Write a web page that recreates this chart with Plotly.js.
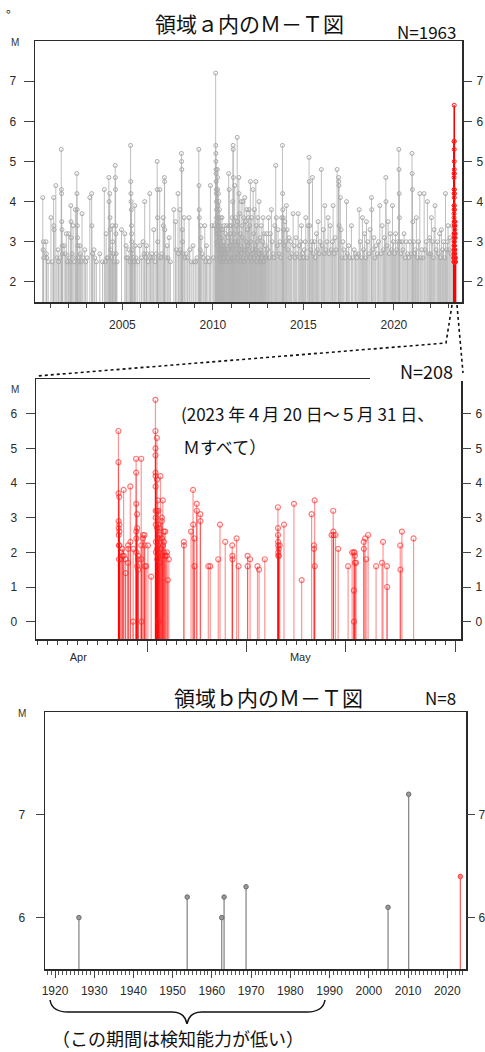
<!DOCTYPE html>
<html>
<head>
<meta charset="utf-8">
<script src="https://cdn.plot.ly/plotly-3.0.1.min.js"></script>
<style>
  html, body { margin: 0; padding: 0; background: #fff; }
  #chart { width: 485px; height: 1052px; }
</style>
</head>
<body>
<div id="chart"></div>
<script>
// ---------- Region a: events M>=2.5 since 2000 (decimal year, magnitude) ----------
const aTime = [
  2000.60, 2000.62, 2000.63, 2000.65, 2000.78, 2000.80, 2000.82, 2000.90,
  2001.05, 2001.12, 2001.20, 2001.21, 2001.22, 2001.32, 2001.38, 2001.45, 2001.48, 2001.55, 2001.62, 2001.63, 2001.64, 2001.65, 2001.66, 2001.67, 2001.68, 2001.78, 2001.85, 2001.90, 2001.95,
  2002.03, 2002.05, 2002.10, 2002.15, 2002.16, 2002.17, 2002.22, 2002.27, 2002.33, 2002.40, 2002.42, 2002.48, 2002.49, 2002.50, 2002.51, 2002.52, 2002.53, 2002.55, 2002.60, 2002.65, 2002.67, 2002.72, 2002.77, 2002.82, 2002.92, 2002.97,
  2003.05, 2003.20, 2003.30, 2003.31, 2003.35, 2003.43, 2003.47, 2003.56, 2003.75, 2003.90,
  2004.00, 2004.05, 2004.10, 2004.15, 2004.20, 2004.25, 2004.26, 2004.30, 2004.31, 2004.32, 2004.35, 2004.40, 2004.45, 2004.46, 2004.50, 2004.55, 2004.60, 2004.61, 2004.62, 2004.63, 2004.64, 2004.65, 2004.70, 2004.95,
  2005.13, 2005.20, 2005.22, 2005.30, 2005.37, 2005.42, 2005.45, 2005.46, 2005.47, 2005.48, 2005.49, 2005.50, 2005.51, 2005.52, 2005.53, 2005.55, 2005.60, 2005.65, 2005.68, 2005.70, 2005.75, 2005.85, 2005.96,
  2006.05, 2006.14, 2006.20, 2006.23, 2006.30, 2006.33, 2006.35, 2006.42, 2006.51, 2006.55, 2006.62, 2006.68, 2006.73, 2006.80, 2006.87, 2006.92, 2006.93, 2006.94, 2006.95, 2006.98,
  2007.06, 2007.12, 2007.18, 2007.25, 2007.26, 2007.32, 2007.33, 2007.34, 2007.40, 2007.47, 2007.52, 2007.58, 2007.65, 2007.84, 2007.93, 2007.97,
  2008.07, 2008.10, 2008.17, 2008.20, 2008.26, 2008.27, 2008.28, 2008.31, 2008.32, 2008.35, 2008.41, 2008.45, 2008.52, 2008.60, 2008.68, 2008.72, 2008.80, 2008.90, 2008.95,
  2009.05, 2009.12, 2009.22, 2009.23, 2009.24, 2009.25, 2009.30, 2009.33, 2009.34, 2009.40, 2009.47, 2009.55, 2009.60, 2009.64, 2009.72, 2009.80, 2009.86, 2009.95,
  2010.02, 2010.08, 2010.150, 2010.155, 2010.160, 2010.165, 2010.170, 2010.175, 2010.180, 2010.185, 2010.190, 2010.195, 2010.200, 2010.205, 2010.210, 2010.215, 2010.220, 2010.225, 2010.230,
  2010.24, 2010.25, 2010.26, 2010.27, 2010.28, 2010.29, 2010.30, 2010.31, 2010.32, 2010.33, 2010.34,
  2010.36, 2010.38, 2010.40, 2010.42, 2010.45, 2010.47, 2010.50, 2010.53, 2010.55, 2010.58, 2010.60, 2010.63, 2010.66, 2010.70, 2010.73, 2010.76, 2010.80, 2010.83, 2010.87, 2010.90, 2010.92, 2010.95, 2010.97,
  2011.00, 2011.03, 2011.06, 2011.09, 2011.11, 2011.12, 2011.13, 2011.16, 2011.20, 2011.23, 2011.26, 2011.30, 2011.34, 2011.36, 2011.39, 2011.43, 2011.44, 2011.47, 2011.50, 2011.53, 2011.56, 2011.60, 2011.63, 2011.66, 2011.70, 2011.73, 2011.76, 2011.80, 2011.83, 2011.87, 2011.90, 2011.93, 2011.96,
  2012.00, 2012.03, 2012.07, 2012.10, 2012.14, 2012.18, 2012.22, 2012.25, 2012.29, 2012.33, 2012.37, 2012.40, 2012.44, 2012.48, 2012.52, 2012.55, 2012.60, 2012.63, 2012.67, 2012.70, 2012.74, 2012.77, 2012.82, 2012.86, 2012.90, 2012.94, 2012.97,
  2013.02, 2013.07, 2013.12, 2013.17, 2013.23, 2013.27, 2013.32, 2013.37, 2013.42, 2013.47, 2013.50, 2013.55, 2013.60, 2013.65, 2013.70, 2013.75, 2013.80, 2013.84, 2013.85, 2013.86, 2013.88, 2013.90, 2013.93, 2013.97,
  2014.02, 2014.06, 2014.10, 2014.15, 2014.20, 2014.25, 2014.30, 2014.35, 2014.43, 2014.48, 2014.53, 2014.58, 2014.63, 2014.71, 2014.76, 2014.80, 2014.85, 2014.89, 2014.95,
  2015.00, 2015.05, 2015.10, 2015.13, 2015.20, 2015.25, 2015.31, 2015.32, 2015.35, 2015.40, 2015.45, 2015.50, 2015.55, 2015.60, 2015.66, 2015.72, 2015.77, 2015.81, 2015.86, 2015.92, 2015.99,
  2016.04, 2016.10, 2016.14, 2016.18, 2016.24, 2016.30, 2016.36, 2016.42, 2016.48, 2016.54, 2016.60, 2016.64, 2016.70, 2016.75, 2016.80, 2016.86, 2016.94, 2016.95, 2016.96, 2016.97,
  2017.04, 2017.08, 2017.13, 2017.18, 2017.23, 2017.30, 2017.38, 2017.43, 2017.50, 2017.56, 2017.65, 2017.72, 2017.80, 2017.88, 2017.95,
  2018.02, 2018.08, 2018.14, 2018.20, 2018.26, 2018.32, 2018.38, 2018.44, 2018.48, 2018.55, 2018.62, 2018.68, 2018.76, 2018.77, 2018.83, 2018.89, 2018.95,
  2019.00, 2019.08, 2019.15, 2019.22, 2019.28, 2019.35, 2019.42, 2019.48, 2019.55, 2019.56, 2019.62, 2019.68, 2019.74, 2019.80, 2019.86, 2019.92, 2019.97,
  2020.03, 2020.09, 2020.15, 2020.21, 2020.27, 2020.28, 2020.29, 2020.30, 2020.32, 2020.38, 2020.45, 2020.50, 2020.56, 2020.62, 2020.68, 2020.75, 2020.82, 2020.88, 2020.94,
  2021.00, 2021.01, 2021.02, 2021.04, 2021.08, 2021.14, 2021.19, 2021.24, 2021.30, 2021.36, 2021.43, 2021.48, 2021.54, 2021.60, 2021.67, 2021.72, 2021.78, 2021.85, 2021.92, 2021.97,
  2022.02, 2022.07, 2022.12, 2022.18, 2022.22, 2022.27, 2022.33, 2022.40, 2022.46, 2022.52, 2022.57, 2022.62, 2022.68, 2022.74, 2022.80, 2022.85, 2022.90, 2022.95, 2022.99,
  2023.05, 2023.10, 2023.16, 2023.22, 2023.27
];
const aMag = [
  4.1, 2.8, 3.0, 2.6, 3.0, 2.7, 2.6, 2.5,
  3.6, 2.5, 4.1, 3.4, 3.3, 4.4, 2.6, 2.8, 2.5, 2.6, 5.3, 4.3, 4.2, 3.5, 3.3, 2.9, 2.7, 2.9, 2.7, 3.2, 2.5,
  3.2, 2.6, 2.5, 3.9, 3.5, 3.1, 2.7, 3.4, 2.5, 3.8, 2.6, 4.7, 4.2, 3.8, 3.4, 3.1, 2.9, 2.6, 2.5, 2.9, 2.7, 2.5, 3.7, 2.6, 2.8, 2.5,
  2.6, 4.1, 4.2, 3.4, 2.7, 2.8, 2.6, 2.5, 2.7, 2.5,
  4.3, 2.5, 3.2, 2.6, 2.6, 4.6, 4.0, 4.2, 3.6, 3.3, 2.8, 2.6, 3.4, 3.0, 2.7, 2.5, 4.9, 4.6, 4.3, 3.4, 3.2, 2.7, 2.5, 3.3,
  3.2, 2.9, 2.6, 2.6, 2.8, 2.5, 5.4, 4.5, 4.2, 4.0, 3.8, 3.4, 3.2, 3.0, 2.8, 2.7, 2.6, 2.5, 3.9, 2.9, 2.6, 2.5, 2.9,
  2.6, 3.0, 2.7, 4.0, 2.6, 2.9, 2.7, 2.5, 4.2, 2.6, 2.7, 2.6, 3.3, 2.5, 2.7, 5.0, 4.3, 3.6, 3.0, 2.6,
  4.3, 2.6, 2.7, 3.6, 3.4, 4.6, 4.5, 3.3, 2.6, 2.9, 2.6, 3.1, 2.5, 3.8, 3.5, 2.8,
  4.2, 2.7, 3.8, 2.8, 5.2, 5.0, 4.8, 3.3, 3.0, 2.7, 3.6, 2.6, 2.7, 2.6, 3.6, 2.8, 2.5, 2.9, 2.5,
  2.5, 2.6, 5.3, 4.4, 3.8, 3.6, 2.8, 3.4, 3.1, 2.7, 2.6, 3.4, 2.5, 2.9, 2.6, 2.5, 4.4, 3.4,
  2.6, 3.4, 7.2, 5.4, 5.2, 5.0, 4.8, 4.7, 4.5, 4.3, 4.2, 4.0, 3.8, 3.6, 3.5, 3.3, 3.2, 3.0, 2.9,
  4.8, 4.6, 4.3, 3.9, 3.4, 3.0, 4.2, 3.6, 2.8, 4.0, 3.2,
  3.8, 2.7, 3.4, 3.6, 2.9, 3.1, 3.6, 2.8, 3.3, 2.6, 3.0, 3.4, 2.7, 3.2, 2.9, 3.4, 2.8, 3.1, 4.7, 4.3, 3.4, 2.9, 3.2,
  3.4, 3.0, 3.6, 4.0, 5.4, 5.3, 4.6, 3.2, 4.4, 3.0, 3.6, 3.4, 5.6, 3.5, 3.0, 4.6, 4.2, 3.7, 3.2, 2.9, 4.0, 3.4, 3.1, 4.0, 3.6, 2.8, 4.1, 3.5, 3.0, 3.8, 3.3, 2.9, 3.6,
  3.8, 3.4, 4.5, 3.0, 3.6, 2.8, 4.3, 3.2, 3.8, 2.9, 4.5, 3.4, 3.0, 3.6, 2.7, 4.0, 3.1, 2.8, 3.4, 2.6, 3.0, 3.6, 3.2, 2.7, 2.9, 2.6, 3.2,
  2.8, 3.6, 2.6, 3.2, 3.8, 3.0, 2.7, 2.6, 3.4, 4.9, 3.6, 2.9, 3.3, 2.7, 3.0, 2.6, 3.6, 5.4, 4.2, 3.8, 3.6, 3.3, 2.9, 3.5,
  3.0, 3.9, 3.3, 2.8, 3.1, 2.6, 3.0, 2.7, 3.7, 2.9, 2.6, 3.1, 2.7, 3.7, 2.9, 2.6, 3.0, 3.4, 2.7,
  2.6, 2.8, 3.0, 3.6, 2.6, 3.4, 5.1, 4.5, 3.4, 2.8, 3.0, 4.6, 2.7, 3.0, 2.6, 3.2, 2.8, 3.5, 2.7, 3.0, 4.8,
  2.9, 3.3, 2.7, 3.9, 2.8, 3.0, 3.6, 2.7, 3.4, 2.8, 3.0, 3.9, 2.7, 3.1, 2.8, 4.8, 4.6, 4.5, 4.4, 3.4,
  4.1, 3.3, 2.6, 3.0, 2.8, 2.6, 4.0, 2.7, 2.9, 2.6, 3.4, 2.6, 2.8, 2.7, 2.6,
  2.7, 3.8, 3.0, 2.6, 3.6, 2.8, 3.2, 2.6, 3.5, 3.0, 2.7, 3.3, 4.1, 3.8, 2.8, 3.1, 2.6,
  2.9, 2.7, 3.0, 3.9, 2.7, 3.4, 2.8, 3.1, 4.6, 4.0, 2.9, 3.5, 2.7, 3.2, 2.8, 3.9, 3.0,
  2.7, 3.2, 2.8, 3.0, 5.3, 4.8, 4.2, 3.6, 3.0, 2.7, 3.0, 2.8, 3.2, 2.6, 3.0, 2.7, 2.6, 3.0, 2.7,
  5.2, 4.7, 4.3, 3.5, 3.0, 2.7, 2.8, 3.6, 2.6, 3.0, 4.2, 2.6, 2.8, 2.6, 4.2, 2.8, 3.0, 4.0, 2.7, 3.1,
  2.7, 3.6, 3.0, 2.6, 3.3, 3.9, 2.8, 3.0, 2.7, 3.2, 2.6, 3.3, 2.8, 3.0, 2.6, 4.2, 2.8, 3.0, 3.4,
  2.8, 3.1, 2.7, 3.4, 2.6
];
// smaller aftershocks of the 2010 sequence (2010-2012)
const aAfterTime = [
  2010.355, 2010.37, 2010.39, 2010.41, 2010.44, 2010.46, 2010.49, 2010.52, 2010.57, 2010.62, 2010.68, 2010.72, 2010.78, 2010.85, 2010.94,
  2011.02, 2011.08, 2011.15, 2011.19, 2011.25, 2011.32, 2011.38, 2011.46, 2011.52, 2011.58, 2011.65, 2011.72, 2011.78, 2011.85, 2011.92,
  2012.05, 2012.12, 2012.20, 2012.27, 2012.35, 2012.42, 2012.50, 2012.58, 2012.65, 2012.72, 2012.80, 2012.88
];
const aAfterMag = [
  2.6, 3.1, 2.5, 2.8, 2.6, 3.3, 2.7, 2.5, 2.9, 2.6, 2.8, 2.5, 2.7, 2.6, 2.5,
  2.6, 2.8, 2.6, 2.5, 2.9, 2.7, 2.6, 2.8, 2.5, 2.7, 2.6, 2.5, 2.8, 2.6, 2.7,
  2.6, 2.5, 2.7, 2.6, 2.8, 2.5, 2.6, 2.7, 2.5, 2.6, 2.5, 2.6
];

// ---------- Current activity: 2023-04-20 .. 2023-05-31, all magnitudes ----------
const swarmTime = [
  '2023-04-28 03:00', '2023-04-28 03:10', '2023-04-28 03:20', '2023-04-28 03:30', '2023-04-28 03:40', '2023-04-28 03:50', '2023-04-28 04:00', '2023-04-28 04:10',
  '2023-04-28 05:00', '2023-04-28 05:10', '2023-04-28 05:20', '2023-04-28 05:30', '2023-04-28 09:00', '2023-04-28 09:30', '2023-04-28 12:30', '2023-04-28 13:00',
  '2023-04-28 15:30', '2023-04-28 16:00', '2023-04-28 20:00', '2023-04-28 20:30',
  '2023-04-29 02:00', '2023-04-29 02:20', '2023-04-29 02:40', '2023-04-29 07:40', '2023-04-29 08:00', '2023-04-29 14:10', '2023-04-29 14:30',
  '2023-04-29 21:40', '2023-04-29 21:50', '2023-04-29 22:00', '2023-04-29 22:10', '2023-04-29 22:20', '2023-04-29 22:30',
  '2023-04-30 00:00', '2023-04-30 00:10', '2023-04-30 00:20', '2023-04-30 02:10', '2023-04-30 02:30', '2023-04-30 02:50',
  '2023-04-30 10:00', '2023-04-30 10:10', '2023-04-30 10:20', '2023-04-30 10:30', '2023-04-30 14:10', '2023-04-30 14:30',
  '2023-04-30 18:00', '2023-04-30 18:20', '2023-04-30 18:40', '2023-04-30 22:00',
  '2023-05-01 02:10', '2023-05-01 10:00',
  '2023-05-01 20:20', '2023-05-01 20:25', '2023-05-01 20:30', '2023-05-01 20:35', '2023-05-01 20:40', '2023-05-01 20:45', '2023-05-01 20:50', '2023-05-01 20:55',
  '2023-05-01 21:00', '2023-05-01 21:10', '2023-05-01 21:20', '2023-05-01 21:30',
  '2023-05-01 23:50', '2023-05-02 00:00', '2023-05-02 00:10', '2023-05-02 00:20', '2023-05-02 00:30', '2023-05-02 00:40',
  '2023-05-02 02:10', '2023-05-02 02:20', '2023-05-02 02:30', '2023-05-02 02:40', '2023-05-02 02:50',
  '2023-05-02 03:40', '2023-05-02 03:50', '2023-05-02 06:00', '2023-05-02 06:20', '2023-05-02 06:40', '2023-05-02 08:30', '2023-05-02 08:50',
  '2023-05-02 11:50', '2023-05-02 12:00', '2023-05-02 12:10', '2023-05-02 12:20', '2023-05-02 14:10', '2023-05-02 14:30',
  '2023-05-02 16:40', '2023-05-02 17:00', '2023-05-02 17:20', '2023-05-02 20:00', '2023-05-02 20:20', '2023-05-02 23:50',
  '2023-05-03 00:10', '2023-05-03 02:10', '2023-05-03 04:40',
  '2023-05-04 16:50', '2023-05-04 17:10', '2023-05-05 10:20', '2023-05-05 15:10', '2023-05-05 15:30', '2023-05-05 18:20', '2023-05-05 18:40',
  '2023-05-06 00:00', '2023-05-06 00:20', '2023-05-06 08:40', '2023-05-06 09:00', '2023-05-07 04:00', '2023-05-07 08:40',
  '2023-05-08 04:00', '2023-05-08 08:10', '2023-05-08 20:50', '2023-05-09 13:40', '2023-05-09 14:00', '2023-05-09 14:20',
  '2023-05-10 00:15', '2023-05-10 05:00', '2023-05-11 02:40', '2023-05-11 03:00', '2023-05-11 08:50',
  '2023-05-12 02:40', '2023-05-12 06:30', '2023-05-12 20:20',
  '2023-05-14 04:00', '2023-05-14 04:10', '2023-05-14 04:20', '2023-05-14 04:30', '2023-05-14 04:40', '2023-05-14 04:50', '2023-05-14 05:00',
  '2023-05-14 06:00', '2023-05-14 06:20', '2023-05-14 08:25', '2023-05-14 18:40', '2023-05-15 18:40', '2023-05-16 13:20',
  '2023-05-17 13:20', '2023-05-17 19:00', '2023-05-17 19:20', '2023-05-17 20:40', '2023-05-17 21:00',
  '2023-05-19 13:30', '2023-05-19 17:30', '2023-05-19 17:50', '2023-05-19 18:10', '2023-05-19 23:00', '2023-05-20 05:30',
  '2023-05-21 05:30', '2023-05-21 15:10', '2023-05-21 19:00', '2023-05-21 19:20', '2023-05-21 19:40', '2023-05-21 21:20', '2023-05-21 21:40', '2023-05-21 22:00',
  '2023-05-22 00:45', '2023-05-22 19:10', '2023-05-22 19:30', '2023-05-22 22:30', '2023-05-23 01:00', '2023-05-23 05:45',
  '2023-05-24 01:00', '2023-05-24 15:20', '2023-05-24 17:45', '2023-05-25 03:20', '2023-05-25 03:40',
  '2023-05-26 11:20', '2023-05-26 11:40', '2023-05-26 15:20', '2023-05-27 19:30'
];
const swarmMag = [
  5.5, 4.6, 3.7, 2.9, 2.7, 2.5, 2.2, 1.8,
  3.6, 2.8, 2.6, 2.2, 1.8, 2.0, 2.1, 1.9,
  3.8, 1.9, 1.8, 1.4,
  1.7, 2.2, 2.1, 3.9, 2.3, 0.0, 2.1,
  4.7, 4.3, 3.4, 2.6, 2.4, 2.0,
  3.1, 2.7, 1.6, 1.8, 1.9, 1.5,
  4.7, 2.2, 1.8, 0.0, 2.4, 2.5,
  2.5, 2.2, 1.6, 1.6,
  2.2, 1.3,
  6.4, 5.5, 5.0, 4.8, 4.3, 4.2, 3.9, 3.2,
  3.0, 2.8, 2.3, 2.0,
  5.3, 4.1, 3.2, 2.7, 2.1, 1.8,
  3.5, 2.8, 2.2, 1.9, 0.0,
  3.2, 2.4, 2.7, 2.5, 1.7, 4.2, 2.1,
  2.9, 3.0, 2.4, 1.9, 3.5, 2.2,
  2.6, 2.3, 2.0, 2.6, 1.9, 1.9,
  2.0, 1.2, 1.8,
  2.3, 2.2, 2.6, 3.8, 2.8, 2.4, 1.6,
  3.4, 3.2, 3.1, 2.9, 1.6, 1.6,
  1.8, 2.8, 2.3, 2.2, 1.9, 1.8,
  2.4, 1.6, 1.9, 1.6, 1.8,
  1.6, 1.5, 1.8,
  3.3, 2.7, 2.5, 2.3, 2.2, 2.0, 1.9,
  2.1, 1.9, 2.2, 2.8, 3.4, 1.2,
  3.1, 2.2, 2.1, 3.5, 1.6,
  2.5, 3.2, 2.6, 2.5, 2.5, 2.1,
  1.6, 2.0, 2.0, 0.9, 0.0, 2.0, 1.9, 1.7,
  1.7, 2.3, 2.1, 2.4, 1.8, 2.5,
  1.6, 1.7, 2.3, 1.6, 1.0,
  2.2, 1.5, 2.6, 2.4
];

// ---------- Region b: M>=6.0 since 1919 ----------
const bTime = [1926.1, 1953.7, 1962.5, 1963.1, 1968.7, 2004.9, 2010.15, 2023.33];
const bMag  = [6.0, 6.2, 6.0, 6.2, 6.3, 6.1, 7.2, 6.4];

// ---------- Axis labels ----------
const aYearTicks = [2005, 2010, 2015, 2020];
const aMagTicks = [2, 3, 4, 5, 6, 7];
const swarmMagTicks = [0, 1, 2, 3, 4, 5, 6];
const swarmTenDayTicks = ['2023-05-01', '2023-05-11', '2023-05-21', '2023-06-01'];
const monthLabels = ['Apr', 'May'];
const monthLabelPos = ['2023-04-24 02:00', '2023-05-16 10:00'];
const bMagTicks = [6, 7];

// ---------- Geometry helpers (page is 485 x 1052 px, margins 0) ----------
const W = 485, H = 1052;
const fx = px => px / W;
const fy = py => 1 - py / H;
const pt = (x, y) => fx(x).toFixed(5) + ',' + fy(y).toFixed(5);

// vertical stems from a base value up to each magnitude
function stems(xs, ys, base) {
  const X = [], Y = [];
  xs.forEach((x, i) => { X.push(x, x, null); Y.push(base, ys[i], null); });
  return { X, Y };
}

// decimal year of a timestamp
function decYear(s) {
  const d = Date.parse(s.replace(' ', 'T') + ':00Z');
  const y = new Date(d).getUTCFullYear();
  const y0 = Date.UTC(y, 0, 1), y1 = Date.UTC(y + 1, 0, 1);
  return y + (d - y0) / (y1 - y0);
}

const A_RANGE = [1.5, 8.0];
const S_RANGE = [-0.5, 7.0];
const B_RANGE = [5.5, 8.0];

const greyT = aTime.concat(aAfterTime);
const greyM = aMag.concat(aAfterMag);

// events of the current activity that enter region a's catalogue (M>=2.5)
const redT = [], redM = [];
swarmTime.forEach((t, i) => { if (swarmMag[i] >= 2.5) { redT.push(decYear(t)); redM.push(swarmMag[i]); } });

const aS = stems(greyT, greyM, A_RANGE[0]);
const rS = stems(redT, redM, A_RANGE[0]);
const sS = stems(swarmTime, swarmMag, S_RANGE[0]);

const bGreyT = [], bGreyM = [], bRedT = [], bRedM = [];
bTime.forEach((t, i) => {
  if (t >= 2023) { bRedT.push(t); bRedM.push(bMag[i]); } else { bGreyT.push(t); bGreyM.push(bMag[i]); }
});
const bgS = stems(bGreyT, bGreyM, B_RANGE[0]);
const brS = stems(bRedT, bRedM, B_RANGE[0]);

const traces = [
  // panel 1
  { x: aS.X, y: aS.Y, xaxis: 'x', yaxis: 'y', mode: 'lines', line: { color: 'rgba(180,180,180,0.85)', width: 1 }, hoverinfo: 'skip' },
  { x: greyT, y: greyM, xaxis: 'x', yaxis: 'y', mode: 'markers', marker: { symbol: 'circle-open', size: 4, color: '#aaaaaa', line: { width: 1 } }, hoverinfo: 'skip' },
  { x: rS.X, y: rS.Y, xaxis: 'x', yaxis: 'y', mode: 'lines', line: { color: '#ff0000', width: 1.6 }, hoverinfo: 'skip' },
  { x: redT, y: redM, xaxis: 'x', yaxis: 'y', mode: 'markers', marker: { symbol: 'circle-open', size: 4, color: '#ff2020', line: { width: 1 } }, hoverinfo: 'skip' },
  { x: [2010], y: [null], xaxis: 'x', yaxis: 'y4', mode: 'markers', hoverinfo: 'skip' },
  // panel 2
  { x: sS.X, y: sS.Y, xaxis: 'x2', yaxis: 'y2', mode: 'lines', line: { color: 'rgba(255,0,0,0.42)', width: 1.2 }, hoverinfo: 'skip' },
  { x: swarmTime, y: swarmMag, xaxis: 'x2', yaxis: 'y2', mode: 'markers', marker: { symbol: 'circle-open', size: 5, color: 'rgba(255,30,30,0.6)', line: { width: 1.2 } }, hoverinfo: 'skip' },
  { x: ['2023-05-01'], y: [null], xaxis: 'x2', yaxis: 'y5', mode: 'markers', hoverinfo: 'skip' },
  { x: ['2023-05-01'], y: [null], xaxis: 'x5', yaxis: 'y2', mode: 'markers', hoverinfo: 'skip' },
  // panel 3
  { x: bgS.X, y: bgS.Y, xaxis: 'x3', yaxis: 'y3', mode: 'lines', line: { color: '#8a8a8a', width: 1.3 }, hoverinfo: 'skip' },
  { x: bGreyT, y: bGreyM, xaxis: 'x3', yaxis: 'y3', mode: 'markers', marker: { symbol: 'circle', size: 4.5, color: '#9a9a9a', line: { color: '#6a6a6a', width: 1 } }, hoverinfo: 'skip' },
  { x: brS.X, y: brS.Y, xaxis: 'x3', yaxis: 'y3', mode: 'lines', line: { color: 'rgba(255,70,70,0.85)', width: 1.3 }, hoverinfo: 'skip' },
  { x: bRedT, y: bRedM, xaxis: 'x3', yaxis: 'y3', mode: 'markers', marker: { symbol: 'circle', size: 4.5, color: '#ff8080', line: { color: '#ff4040', width: 1 } }, hoverinfo: 'skip' },
  { x: [1950], y: [null], xaxis: 'x3', yaxis: 'y6', mode: 'markers', hoverinfo: 'skip' }
];

const tickFont = { family: 'Liberation Sans, Arial, sans-serif', size: 12, color: '#2a2a2a' };
const frame = { showline: true, mirror: true, linecolor: '#2a2a2a', linewidth: 1.5, showgrid: false, zeroline: false, tickcolor: '#444', tickwidth: 1, tickfont: tickFont };

function rightAxis(over, anchor, range, vals, len, stand) {
  return { overlaying: over, anchor: anchor, side: 'right', range: range, tickmode: 'array', tickvals: vals,
    ticks: 'outside', ticklen: len, tickcolor: '#444', tickwidth: 1, ticklabelstandoff: stand,
    showline: false, showgrid: false, zeroline: false, tickfont: tickFont, fixedrange: true };
}

const layout = {
  width: W, height: H,
  margin: { l: 0, r: 0, t: 0, b: 0, pad: 0 },
  paper_bgcolor: '#ffffff', plot_bgcolor: '#ffffff',
  showlegend: false,
  // panel 1
  xaxis: Object.assign({}, frame, {
    domain: [fx(35), fx(462)], anchor: 'y', range: [2000.17, 2023.76],
    tickmode: 'array', tickvals: aYearTicks, ticks: 'outside', ticklen: 6, ticklabelstandoff: 5,
    minor: { tickmode: 'linear', tick0: 2000, dtick: 1, ticks: 'outside', ticklen: 4, tickcolor: '#444', showgrid: false }
  }),
  yaxis: Object.assign({}, frame, {
    domain: [fy(302), fy(41)], anchor: 'x', range: A_RANGE,
    tickmode: 'array', tickvals: aMagTicks, ticks: 'outside', ticklen: 10, ticklabelstandoff: 5
  }),
  yaxis4: rightAxis('y', 'x', A_RANGE, aMagTicks, 9, 2),
  // panel 2
  xaxis2: Object.assign({}, frame, {
    domain: [fx(36), fx(461)], anchor: 'y2', type: 'date',
    range: ['2023-04-19 20:00', '2023-06-01 14:00'],
    tickmode: 'array', tickvals: swarmTenDayTicks, showticklabels: false, ticks: 'outside', ticklen: 11,
    minor: { tickmode: 'linear', tick0: '2023-04-20', dtick: 86400000, ticks: 'outside', ticklen: 4, tickcolor: '#444', showgrid: false }
  }),
  xaxis5: {
    overlaying: 'x2', anchor: 'y2', side: 'bottom', type: 'date',
    range: ['2023-04-19 20:00', '2023-06-01 14:00'],
    tickmode: 'array', tickvals: monthLabelPos, ticktext: monthLabels, ticks: '',
    ticklabelstandoff: 10, showline: false, showgrid: false, zeroline: false,
    tickfont: { family: 'Liberation Sans, Arial, sans-serif', size: 11, color: '#2a2a2a' }
  },
  yaxis2: Object.assign({}, frame, {
    domain: [fy(639), fy(379)], anchor: 'x2', range: S_RANGE,
    tickmode: 'array', tickvals: swarmMagTicks, ticks: 'outside', ticklen: 9, ticklabelstandoff: 6
  }),
  yaxis5: rightAxis('y2', 'x2', S_RANGE, swarmMagTicks, 9, 2),
  // panel 3
  xaxis3: Object.assign({}, frame, {
    domain: [fx(45), fx(466)], anchor: 'y3', range: [1917.45, 2024.77],
    tickmode: 'linear', tick0: 1920, dtick: 10, ticks: 'outside', ticklen: 7, ticklabelstandoff: 3,
    minor: { tickmode: 'linear', tick0: 1920, dtick: 1, ticks: 'outside', ticklen: 4, tickcolor: '#555', showgrid: false }
  }),
  yaxis3: Object.assign({}, frame, {
    domain: [fy(969), fy(712)], anchor: 'x3', range: B_RANGE,
    tickmode: 'array', tickvals: bMagTicks, ticks: 'outside', ticklen: 8, ticklabelstandoff: 8
  }),
  yaxis6: rightAxis('y3', 'x3', B_RANGE, bMagTicks, 8, 1),

  shapes: [
    // gap in the top edge of the middle frame behind the count label
    { type: 'rect', xref: 'paper', yref: 'paper', x0: fx(370), x1: fx(464), y0: fy(381), y1: fy(360), fillcolor: '#ffffff', line: { width: 0 }, layer: 'above' },
    // zoom connectors from the red segment down to the middle frame
    { type: 'path', xref: 'paper', yref: 'paper', layer: 'above',
      path: 'M' + pt(452, 305) + ' L' + pt(446, 343) + ' L' + pt(37, 376),
      line: { color: '#111', width: 1.6, dash: 'dot' } },
    { type: 'path', xref: 'paper', yref: 'paper', layer: 'above',
      path: 'M' + pt(457, 305) + ' L' + pt(463, 373),
      line: { color: '#111', width: 1.6, dash: 'dot' } },
    // brace under the early decades
    { type: 'path', xref: 'paper', yref: 'paper', layer: 'above',
      path: 'M' + pt(50, 1000) + ' Q' + pt(52, 1012) + ' ' + pt(68, 1012) +
            ' L' + pt(172, 1012) + ' Q' + pt(185, 1012) + ' ' + pt(187, 1024) +
            ' Q' + pt(189, 1012) + ' ' + pt(202, 1012) + ' L' + pt(307, 1012) +
            ' Q' + pt(323, 1012) + ' ' + pt(325, 1000),
      line: { color: '#111', width: 1.5 } }
  ],

  annotations: [
    { text: '。', x: fx(12), y: fy(8), xref: 'paper', yref: 'paper', showarrow: false, xanchor: 'center', yanchor: 'middle',
      font: { family: 'Noto Sans CJK JP', size: 12, color: '#111' } },
    { text: '領域ａ内のＭ－Ｔ図', x: fx(250), y: fy(23), xref: 'paper', yref: 'paper', showarrow: false, xanchor: 'center', yanchor: 'middle',
      font: { family: 'Noto Sans CJK JP', size: 21, color: '#111' } },
    { text: 'N=1963', x: fx(426), y: fy(31), xref: 'paper', yref: 'paper', showarrow: false, xanchor: 'center', yanchor: 'middle',
      font: { family: 'Noto Sans CJK JP', size: 17, color: '#111' } },
    { text: 'M', x: fx(15), y: fy(43), xref: 'paper', yref: 'paper', showarrow: false, xanchor: 'center', yanchor: 'middle',
      font: { family: 'Liberation Sans, Arial, sans-serif', size: 10, color: '#333' } },
    { text: 'N=208', x: fx(426), y: fy(371), xref: 'paper', yref: 'paper', showarrow: false, xanchor: 'center', yanchor: 'middle',
      font: { family: 'Noto Sans CJK JP', size: 18, color: '#111' } },
    { text: 'M', x: fx(15), y: fy(389), xref: 'paper', yref: 'paper', showarrow: false, xanchor: 'center', yanchor: 'middle',
      font: { family: 'Liberation Sans, Arial, sans-serif', size: 10, color: '#333' } },
    { text: '(2023 年４月 20 日～５月 31 日、', x: fx(179), y: fy(413), xref: 'paper', yref: 'paper', showarrow: false, xanchor: 'left', yanchor: 'middle',
      font: { family: 'Noto Sans CJK JP', size: 17, color: '#111' } },
    { text: 'Ｍすべて）', x: fx(181), y: fy(447), xref: 'paper', yref: 'paper', showarrow: false, xanchor: 'left', yanchor: 'middle',
      font: { family: 'Noto Sans CJK JP', size: 17, color: '#111' } },
    { text: '領域ｂ内のＭ－Ｔ図', x: fx(268), y: fy(697), xref: 'paper', yref: 'paper', showarrow: false, xanchor: 'center', yanchor: 'middle',
      font: { family: 'Noto Sans CJK JP', size: 21, color: '#111' } },
    { text: 'N=8', x: fx(440), y: fy(697), xref: 'paper', yref: 'paper', showarrow: false, xanchor: 'center', yanchor: 'middle',
      font: { family: 'Noto Sans CJK JP', size: 17, color: '#111' } },
    { text: 'M', x: fx(22), y: fy(713), xref: 'paper', yref: 'paper', showarrow: false, xanchor: 'center', yanchor: 'middle',
      font: { family: 'Liberation Sans, Arial, sans-serif', size: 10, color: '#333' } },
    { text: '（この期間は検知能力が低い）', x: fx(178), y: fy(1038), xref: 'paper', yref: 'paper', showarrow: false, xanchor: 'center', yanchor: 'middle',
      font: { family: 'Noto Sans CJK JP', size: 18, color: '#111' } }
  ]
};

Plotly.newPlot('chart', traces, layout, { staticPlot: true, displayModeBar: false });
</script>
</body>
</html>
